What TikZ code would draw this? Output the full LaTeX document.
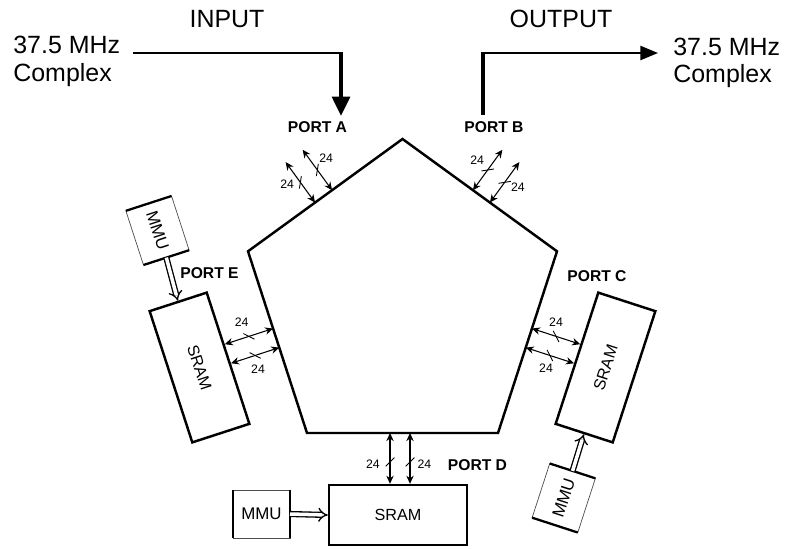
\documentclass[tikz,border=0pt]{standalone}
\usepackage{fontspec}
\setmainfont{Liberation Sans}
\usetikzlibrary{arrows.meta,calc,positioning}

\tikzset{
	bigtext/.style={font=\fontsize{14.2}{16}\selectfont, inner sep=0pt},
	porttext/.style={font=\fontsize{8.9}{10}\selectfont\bfseries, inner sep=0pt},
	bustext/.style={font=\fontsize{7}{8}\selectfont, inner sep=1pt},
	sram/.style={draw, line width=1.4pt, minimum width=2.76cm, minimum height=1.2cm, inner sep=0pt, font=\fontsize{9.2}{10}\selectfont},
	mmu/.style={draw=black!70, line width=0.4pt, outer sep=0pt, minimum width=1.14cm, minimum height=0.96cm, inner sep=0pt, font=\fontsize{9.6}{10}\selectfont},
	bus/.style={{Stealth[length=4.6pt,width=4.2pt]}-{Stealth[length=4.6pt,width=4.2pt]}, line width=0.6pt},
	memlink/.style={double, double distance=2pt, line width=0.75pt, -{Implies}},
	busslash/.pic={\draw[-, line width=0.5pt] (-4.4,-4.4) -- (4.4,4.4);}
}

\begin{document}
\begin{tikzpicture}[x=0.02cm, y=-0.02cm]
\useasboundingbox (0,0) rectangle (790,548);

% Pentagono
\coordinate (T) at (402.5,139);
\coordinate (UR) at (557,251.3);
\coordinate (LR) at (498,433);
\coordinate (LL) at (307,433);
\coordinate (UL) at (248,251.3);
\draw[line width=1.4pt] (T) -- (UR) -- (LR) -- (LL) -- (UL) -- cycle;

% Entrada y salida
\node[bigtext, anchor=base west] (inTop) at (13,53) {37.5 MHz};
\node[bigtext, anchor=base west] (inBot) at (13,81) {Complex};
\node[bigtext, anchor=base] (inLabel) at (227,27) {INPUT};
\node[bigtext, anchor=base west] (outTop) at (673,55) {37.5 MHz};
\node[bigtext, anchor=base west] (outBot) at (673,82) {Complex};
\node[bigtext, anchor=base] (outLabel) at (561,27) {OUTPUT};

\coordinate (inCorner) at (341,53);
\coordinate (portAin) at (341,116);
\coordinate (portBout) at (483,115);
\coordinate (outCorner) at (483,53);
\coordinate (outTip) at (658,53);

\draw[line width=1.1pt] ([xshift=7pt]inTop.base east) -- (inCorner);
\draw[line width=2.3pt, -{Triangle[length=11pt,width=10pt]}] ([yshift=0.55pt]inCorner) -- (portAin);
\draw[line width=2.3pt] (portBout) -- ([yshift=0.55pt]outCorner);
\draw[line width=1.1pt, -{Triangle[length=10pt,width=8pt]}] (outCorner) -- (outTip);

% Puertos
\node[porttext, anchor=base] (portA) at (317.5,132) {PORT A};
\node[porttext, anchor=base] (portB) at (494,132) {PORT B};
\node[porttext, anchor=base] (portE) at (209.5,278) {PORT E};
\node[porttext, anchor=base] (portC) at (597,281) {PORT C};
\node[porttext, anchor=base] (portD) at (477.5,470) {PORT D};

% Memorias
\node[sram, rotate=-72] (sramE) at (199.5,367.5) {SRAM};
\node[sram, rotate=72] (sramC) at (605.5,367.5) {SRAM};
\node[sram] (sramD) at (398,515) {SRAM};

\node[mmu, rotate=-72] (mmuE) at (157.5,230.5) {MMU};
\node[mmu, rotate=72] (mmuC) at (563.75,498) {MMU};
\node[mmu] (mmuD) at (261.5,514) {MMU};

\foreach \m in {mmuE,mmuD,mmuC}
	\draw[line width=1.3pt] (\m.north west) -- (\m.south west) (\m.north east) -- (\m.south east);

\draw[memlink] (mmuE.east) -- (sramE.west);
\draw[memlink] (mmuD.east) -- (sramD.west);
\draw[memlink] (mmuC.east) -- (sramC.west);

% Buses de 24 bits
\coordinate (a1) at ($(T)!0.566!(UL)$);
\coordinate (a2) at ($(T)!0.456!(UL)$);
\coordinate (a1end) at ($(a1)!1cm!-90:(UL)$);
\coordinate (a2end) at ($(a2)!1cm!-90:(UL)$);
\draw[bus] (a1) -- (a1end) pic[pos=0.5, sloped]{busslash} node[bustext, pos=0.46, left=3pt] (la1) {24};
\draw[bus] (a2) -- (a2end) pic[pos=0.5, sloped]{busslash} node[bustext, pos=0.78, right=4.5pt] (la2) {24};

\coordinate (b1) at ($(T)!0.456!(UR)$);
\coordinate (b2) at ($(T)!0.566!(UR)$);
\coordinate (b1end) at ($(b1)!1cm!90:(UR)$);
\coordinate (b2end) at ($(b2)!1cm!90:(UR)$);
\draw[bus] (b1) -- (b1end) pic[pos=0.5, sloped]{busslash} node[bustext, pos=0.75, left=5pt] (lb1) {24};
\draw[bus] (b2) -- (b2end) pic[pos=0.5, sloped]{busslash} node[bustext, pos=0.37, right=4.5pt] (lb2) {24};

\coordinate (e1) at ($(UL)!0.425!(LL)$);
\coordinate (e2) at ($(UL)!0.53!(LL)$);
\draw[bus] (e1) -- ($(sramE.north west)!(e1)!(sramE.north east)$) pic[pos=0.5, sloped]{busslash} node[bustext, pos=0.65, above=5.5pt] (le1) {24};
\draw[bus] (e2) -- ($(sramE.north west)!(e2)!(sramE.north east)$) pic[pos=0.5, sloped]{busslash} node[bustext, pos=0.44, below=4.5pt] (le2) {24};

\coordinate (c1) at ($(UR)!0.425!(LR)$);
\coordinate (c2) at ($(UR)!0.53!(LR)$);
\draw[bus] (c1) -- ($(sramC.north west)!(c1)!(sramC.north east)$) pic[pos=0.5, sloped]{busslash} node[bustext, pos=0.5, above=4.5pt] (lc1) {24};
\draw[bus] (c2) -- ($(sramC.north west)!(c2)!(sramC.north east)$) pic[pos=0.5, sloped]{busslash} node[bustext, pos=0.42, below=4pt] (lc2) {24};

\coordinate (d1) at ($(sramD.north)+(-8,0)$);
\coordinate (d2) at ($(sramD.north)+(12,0)$);
\draw[bus] (d1 |- LL) -- (d1) pic[pos=0.57, sloped]{busslash} node[bustext, pos=0.62, left=4.5pt] (ld1) {24};
\draw[bus] (d2 |- LL) -- (d2) pic[pos=0.57, sloped]{busslash} node[bustext, pos=0.62, right=3pt] (ld2) {24};

\end{tikzpicture}
\end{document}
